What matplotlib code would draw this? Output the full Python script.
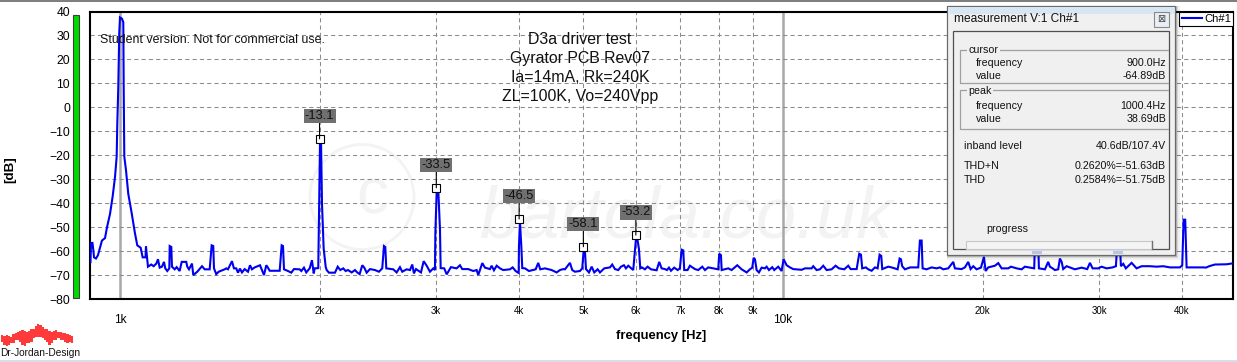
import matplotlib
matplotlib.use("Agg")
import matplotlib.pyplot as plt
from matplotlib.patches import Rectangle, Ellipse
import numpy as np

plt.rcParams['font.family'] = ['Liberation Sans', 'DejaVu Sans']

W, H = 1237, 362

# ---- spectrum: log10(frequency / Hz) and level in dB ----
fund_log = [2.9555,2.9563,2.9585,2.9600,2.9608,2.9638,2.9668,2.9698,2.9728,2.9774,2.9804,2.9849,2.9890,2.9925,2.9950,2.9959,2.9974,2.9989,3.0000,3.0030,3.0050,3.0056,3.0065,3.0090,3.0125,3.0176,3.0226,3.0261,3.0312,3.0342,3.0385,3.0392]
fund_db  = [-64.5,-56.5,-56.5,-60,-62.5,-63,-61.6,-58.5,-55.5,-54.5,-50,-44.5,-37,-29,-20.5,-7.4,8,31,37.5,37,35.5,8,-20.5,-26,-36,-44,-52.5,-57.5,-58.5,-62.5,-62.5,-58]

band1_log = [3.0422,3.0472,3.0508,3.0548,3.0573,3.0599,3.0633,3.0664,3.0683,3.0713,3.0744,3.0750,3.0774,3.0784,3.0825,3.0855,3.0900,3.0931,3.1000,3.1015,3.1041,3.1086,3.1106,3.1166,3.1237,3.1278,3.1353,3.1383,3.1407,3.1418,3.1452,3.1489,3.1579,3.1603,3.1629,3.1689,3.1719,3.1754,3.1780,3.1810,3.1840,3.1881,3.1931,3.1961,3.1991,3.2032,3.2112,3.2131,3.2172,3.2207,3.2232,3.2258,3.2409,3.2439,3.2459,3.2474,3.2534,3.2584,3.2624,3.2710,3.2735,3.2775,3.2810,3.2861,3.2896,3.2922,3.2937,3.2991]
band1_db  = [-66.4,-65.5,-66.2,-65.1,-63.3,-66.8,-66.4,-64.4,-67.1,-68.2,-67.1,-57.8,-58.2,-66.4,-67.5,-66.6,-68.2,-64.4,-64.4,-66.4,-67.5,-65.1,-69.9,-68.5,-66.2,-67.5,-67.5,-57.5,-57.8,-67.1,-69.5,-68.5,-67.5,-67.1,-67.5,-64.1,-67.1,-67.1,-68.9,-67.2,-68.8,-67.4,-68.5,-65.8,-67.5,-66.7,-65.8,-67.1,-69.9,-65.8,-66.8,-68.1,-68.1,-57.5,-57.8,-67.5,-68.2,-68.9,-67.4,-67.5,-68.2,-66.8,-68.8,-67.1,-63.7,-69.2,-67.1,-67]

band2_log = [3.3005,3.3017,3.3032,3.3047,3.3072,3.3103,3.3118,3.3152,3.3243,3.3284,3.3323,3.3368,3.3404,3.3439,3.3495,3.3545,3.3579,3.3615,3.3655,3.3685,3.3721,3.3771,3.3846,3.3906,3.3956,3.3982,3.4002,3.4017,3.4122,3.4173,3.4223,3.4258,3.4324,3.4374,3.4409,3.4434,3.4465,3.4540,3.4581,3.4626,3.4676,3.4726,3.4751]
band2_db  = [-40,-15,-13.1,-40,-58.7,-66.5,-67.8,-68.9,-68.9,-66.4,-67.8,-67.1,-68.2,-67.8,-68.8,-67.8,-68.8,-69.5,-65.8,-66.8,-68.9,-67.4,-67.8,-68.5,-67.1,-57.8,-58.2,-67.1,-67.5,-68.8,-66.6,-68.5,-67.5,-67.8,-65.5,-69.2,-67.4,-68.8,-64.1,-66,-68.5,-67.1,-67.8]

band3_log = [3.4757,3.4777,3.4801,3.4827,3.4837,3.4891,3.4928,3.4992,3.5078,3.5128,3.5163,3.5253,3.5329,3.5380,3.5404,3.5465,3.5505,3.5581,3.5606,3.5641,3.5682,3.5732,3.5781,3.5882,3.5923,3.5968,3.5999,3.6014,3.6018,3.6033,3.6053,3.6068,3.6109,3.6169,3.6270,3.6309,3.6339,3.6410,3.6511,3.6587,3.6637,3.6686,3.6712,3.6787,3.6822,3.6863,3.6938,3.6973,3.6994,3.7014,3.7029]
band3_db  = [-52.5,-35,-34.4,-51,-67,-67.1,-69.6,-66.6,-67.1,-65.8,-67.4,-67.4,-68.2,-67.8,-69.9,-64.9,-66.8,-67.4,-66,-67.9,-66,-67.1,-67.8,-67.5,-66.7,-68.2,-68.8,-69,-58,-47.6,-57.4,-67,-67.1,-68.2,-67.5,-64.8,-67.5,-67.1,-67.8,-68.8,-67.8,-67.4,-67.5,-64.8,-67.8,-68.5,-68.2,-67.1,-59.5,-60,-67.4]

band4_log = [3.7074,3.7115,3.7154,3.7205,3.7240,3.7305,3.7391,3.7425,3.7466,3.7516,3.7557,3.7602,3.7632,3.7667,3.7742,3.7763,3.7783,3.7808,3.7828,3.7848,3.7873,3.7918,3.7959,3.8009,3.8095,3.8134,3.8170,3.8220,3.8250,3.8281,3.8311,3.8360,3.8412,3.8446,3.8472,3.8496,3.8511,3.8562,3.8597,3.8673,3.8722,3.8783,3.8824,3.8873,3.8949,3.9024,3.9039,3.9065,3.9076,3.9175,3.9226,3.9311,3.9377,3.9453,3.9502,3.9537,3.9558,3.9578,3.9603,3.9638,3.9679,3.9728,3.9754,3.9789,3.9839,3.9869,3.9929,3.9980]
band4_db  = [-68.8,-66.4,-68.8,-67.5,-68.8,-67.1,-66.7,-65.5,-67.4,-67.8,-66.4,-65.8,-67.1,-66,-67.8,-61,-54.8,-55.5,-59,-67.1,-66.7,-67.5,-66.4,-67.5,-67.9,-64.4,-67.1,-67.4,-67.8,-66.8,-68.1,-66.8,-67.8,-67.1,-59.3,-59.6,-67.8,-67.8,-66,-67.4,-67.8,-66.4,-67.8,-66.7,-67.1,-67.5,-61,-61.6,-67.8,-67.1,-67.8,-65.8,-67.5,-68.8,-67.5,-66.8,-62.7,-63.3,-67.8,-68.8,-66.8,-67.1,-66.4,-67.8,-66.6,-67.8,-66.4,-68.2]

band5_log = [4.0010,4.0056,4.0106,4.0155,4.0282,4.0332,4.0433,4.0457,4.0508,4.0558,4.0608,4.0659,4.0734,4.0795,4.0845,4.0925,4.0985,4.1021,4.1112,4.1151,4.1177,4.1196,4.1252,4.1287,4.1338,4.1388,4.1428,4.1458,4.1483,4.1498,4.1588,4.1639,4.1730,4.1760,4.1780,4.1799,4.1840,4.1920,4.2041,4.2066,4.2092,4.2107,4.2167,4.2243,4.2318,4.2368,4.2418,4.2493,4.2569,4.2594,4.2695,4.2745,4.2795,4.2831,4.2871,4.2921,4.2987,4.3032,4.3057,4.3097,4.3198,4.3248,4.3299,4.3398,4.3439,4.3525,4.3600,4.3650,4.3790]
band5_db  = [-63.3,-65.8,-66.7,-67.4,-67.7,-67.1,-67.1,-66.2,-67.8,-67.5,-66,-67.8,-67.5,-66,-67.1,-67.5,-66,-67.4,-67.4,-61,-61.4,-67.1,-66.7,-67.5,-68.1,-66.7,-67.1,-61.4,-61.9,-67.4,-66.4,-66.7,-67.5,-63,-63.3,-66.2,-67.5,-66.7,-66.7,-55.5,-55.5,-67.1,-67.5,-66.7,-67.1,-66.7,-67.5,-67.1,-64.4,-67.1,-67.4,-66.7,-64.4,-67.4,-66.2,-67.5,-66.8,-62.3,-68.2,-66.7,-66,-64.9,-67.1,-67.1,-66.4,-67.1,-67.5,-66.4,-67.1]

band6_log = [4.3801,4.3851,4.3861,4.3952,4.4001,4.4027,4.4068,4.4102,4.4152,4.4178,4.4204,4.4228,4.4279,4.4404,4.4505,4.4590,4.4631,4.4671,4.4756,4.4807,4.4882,4.4973,4.5023,4.5042,4.5083,4.5098,4.5133,4.5173,4.5259,4.5335,4.5410,4.5535,4.5636,4.5736,4.5837,4.5988,4.6023,4.6033,4.6044,4.6068,4.6078,4.6089,4.6350,4.6380,4.6430,4.6516,4.6693,4.6788]
band6_db  = [-57,-57,-67.1,-67.5,-64.4,-66.4,-67.1,-67.8,-67.5,-63,-64.4,-67.4,-66.2,-67.5,-66.8,-67.4,-64.8,-67.1,-67.1,-66.4,-67.1,-66.7,-66.2,-57,-57,-66.2,-65.2,-67.1,-64.8,-67.1,-66.2,-66.2,-66.4,-66.2,-66.7,-66.7,-65.8,-56.8,-46.8,-46.8,-57,-66.7,-66.7,-66.8,-66.2,-65.5,-65.4,-65]

log_freq = np.array(fund_log + band1_log + band2_log + band3_log + band4_log + band5_log + band6_log)
level_db = np.array(fund_db + band1_db + band2_db + band3_db + band4_db + band5_db + band6_db)
frequency = 10.0 ** log_freq

harmonic_hz = [2000, 3000, 4000, 5000, 6000]
harmonic_db = [-13.1, -33.5, -46.5, -58.1, -53.2]
harmonic_labels = ['-13.1', '-33.5', '-46.5', '-58.1', '-53.2']

y_ticks = [40, 30, 20, 10, 0, -10, -20, -30, -40, -50, -60, -70, -80]
decade_hz = [1000, 10000]
decade_labels = ['1k', '10k']
minor_hz = [2000, 3000, 4000, 5000, 6000, 7000, 8000, 9000, 20000, 30000, 40000]
minor_labels = ['2k', '3k', '4k', '5k', '6k', '7k', '8k', '9k', '20k', '30k', '40k']
x_range = [901.1, 47740]
y_range = [-80, 40]

title_lines = ['D3a driver test', 'Gyrator PCB Rev07', 'Ia=14mA, Rk=240K', 'ZL=100K, Vo=240Vpp']

logo_top = [-3,-3.5,-3,-3.5,-4,-2.5,-2,-1,-0.5,0,-0.5,-1,-0.5,0.5,1,2.5,4,3,2,1,0.5,-0.5,-1,-0.5,0,-1,-1,-1.5,-2,-2.5,-3,-3.5]
logo_bot = [-7,-9,-10,-9,-8,-8,-6,-6,-7,-9,-10,-8,-8,-7,-5,-4,-4,-4,-5,-6,-7,-9,-8,-6,-6,-5,-6,-6,-7,-8,-7,-8]

# ---- figure ----
fig = plt.figure(figsize=(W/100, H/100), dpi=100, facecolor='white')
ax = fig.add_axes([90/W, (H-299.3)/H, 1143/W, 287.8/H], facecolor='none', zorder=2)

# faint watermark behind the plot
wm = '#f3f3f3'
fig.text(480/W, 1-238/H, 'bartola.co.uk', fontsize=52, style='italic', color=wm,
         va='baseline', ha='left', zorder=-1)
fig.add_artist(Ellipse((362/W, 1-197/H), 104/W, 105/H, fill=False, edgecolor=wm, lw=2, zorder=-1))
fig.text(372/W, 1-197/H, 'c', fontsize=46, color=wm, ha='center', va='center', zorder=-1)

ax.set_xscale('log')
ax.set_xlim(*x_range)
ax.set_ylim(*y_range)
ax.plot(frequency, level_db, color='#0000f0', lw=1.5, solid_joinstyle='miter', label='Ch#1', zorder=3)

ax.set_xticks(decade_hz)
ax.set_xticklabels(decade_labels, fontsize=8.6)
ax.set_xticks(minor_hz, minor=True)
ax.set_xticklabels(minor_labels, minor=True, fontsize=7.0)
ax.tick_params(axis='x', which='major', length=0, pad=10.6)
ax.tick_params(axis='x', which='minor', length=0, pad=5.0)
ax.set_yticks(y_ticks)
ax.tick_params(axis='y', length=0, pad=14.4, labelsize=8.7)
ax.grid(True, axis='x', which='major', color='#a8a8a8', lw=1.8, ls='-', zorder=1)
ax.grid(True, axis='x', which='minor', color='#8c8c8c', lw=0.75, ls=(0, (4, 3)), zorder=1)
ax.grid(True, axis='y', which='major', color='#8c8c8c', lw=0.75, ls=(0, (4, 3)), zorder=1)
ax.set_axisbelow(True)
for s in ax.spines.values():
    s.set_linewidth(1.5)
    s.set_color('black')

ax.set_xlabel('frequency [Hz]', fontsize=9.4, fontweight='bold', va='center')
ax.xaxis.set_label_coords((661-90)/1143, -(336.5-299.3)/287.8)
ax.set_ylabel('[dB]', fontsize=9.6, fontweight='bold', va='center', ha='center')
ax.yaxis.set_label_coords(-80/1143, (299.3-170)/287.8)

# harmonic markers and value tags
ax.plot(harmonic_hz, harmonic_db, ls='none', marker='s', ms=5.5, mfc='white', mec='black', mew=0.8, zorder=5)
for f, v, t in zip(harmonic_hz, harmonic_db, harmonic_labels):
    ax.annotate(t, (f, v), xytext=(0, 16.4), textcoords='offset points', ha='center', va='center',
                fontsize=9.3, color='#111111', zorder=6,
                bbox=dict(boxstyle='square,pad=0.1', fc='#707070', ec='none'),
                arrowprops=dict(arrowstyle='-', color='black', lw=0.8, shrinkA=0, shrinkB=0))

# free text placed in pixel space through an overlay
ui = fig.add_axes([0, 0, 1, 1], facecolor='none', zorder=4)
ui.set_xlim(0, W)
ui.set_ylim(H, 0)
ui.axis('off')

ui.text(100, 40, 'Student version. Not for commercial use.', fontsize=8.95, color='#111111', va='center', ha='left')
for yy, line in zip([40, 58.5, 77.7, 96], title_lines):
    ui.text(580, yy, line, fontsize=11.4, color='#111111', ha='center', va='center')

leg = ax.legend(loc='upper right', bbox_to_anchor=(1, 1), borderaxespad=0, fontsize=8.0,
                frameon=True, fancybox=False, edgecolor='black', facecolor='white', framealpha=1,
                handlelength=1.8, handletextpad=0.2, borderpad=0.2)
leg.get_frame().set_linewidth(0.8)

# window chrome
ui.add_patch(Rectangle((0, 0), W, 1.5, fc='#7f7f7f', ec='none'))
ui.add_patch(Rectangle((0, 359.5), W, 2.5, fc='#d5e0ea', ec='none'))
ui.add_patch(Rectangle((72.7, 15), 6, 283, fc='#00dc00', ec='#404040', lw=0.8))

# measurement panel
for off, a in [(5, 0.06), (3, 0.10), (1.5, 0.14)]:
    ui.add_patch(Rectangle((946.5, 6), 228.5+off, 249+off, fc='black', alpha=a, ec='none', zorder=5))
ui.add_patch(Rectangle((946.5, 6), 228.5, 249, fc='#f0f0f0', ec='#6a6a6a', lw=0.9, zorder=6))
ui.add_patch(Rectangle((947.5, 7), 226.5, 7, fc='#d8e6f4', ec='none', zorder=6))
ui.add_patch(Rectangle((952.7, 30.7), 216.3, 218.3, fc='#f0f0f0', ec='#505050', lw=0.9, zorder=6))
ui.add_patch(Rectangle((1153.5, 11.5), 15.5, 15.5, fc='#e8eef4', ec='#888888', lw=0.8, zorder=7))
ui.text(1161.2, 19.2, '\u22a0', fontsize=7, ha='center', va='center', color='#444444', zorder=8,
        family=['DejaVu Sans'])
ui.plot([1168, 960, 960, 1168], [49.5, 49.5, 82.7, 82.7], color='#a0a0a0', lw=0.9, zorder=7)
ui.plot([1168, 960, 960, 1168], [90.3, 90.3, 129.3, 129.3], color='#a0a0a0', lw=0.9, zorder=7)
ui.add_patch(Rectangle((965.5, 241), 186.5, 8, fc='#f4f4f4', ec='#c8c8c8', lw=0.8, zorder=7))
ui.plot([1152, 1152], [241, 249], color='#707070', lw=1, zorder=8)
for cx in [1036.5, 1118]:
    ui.add_patch(Rectangle((cx-5, 250.5), 10, 3.5, fc='#b4c4ee', ec='none', zorder=7))

pt = dict(fontsize=7.7, color='#111111', va='center', zorder=9)
ui.text(954.5, 19, 'measurement V:1 Ch#1', fontsize=8.6, color='#111111', va='center', zorder=9)
for xx, yy, s in [(975.5, 63, 'frequency'), (975.5, 76, 'value'), (975.5, 106, 'frequency'),
                  (975.5, 119, 'value'), (963.5, 146, 'inband level'), (964, 166, 'THD+N'),
                  (964, 180, 'THD'), (986.5, 228.5, 'progress')]:
    ui.text(xx, yy, s, ha='left', **pt)
for xx, yy, s in [(968.5, 50, 'cursor'), (968.5, 91, 'peak')]:
    ui.text(xx, yy, s, ha='left', bbox=dict(fc='#f0f0f0', ec='none', pad=1), **pt)
for yy, s in [(63, '900.0Hz'), (76, '-64.89dB'), (106, '1000.4Hz'), (119, '38.69dB'),
              (146, '40.6dB/107.4V'), (166, '0.2620%=-51.63dB'), (180, '0.2584%=-51.75dB')]:
    ui.text(1166, yy, s, ha='right', **pt)

# maker logo
logo = fig.add_axes([1/W, (H-348)/H, 72/W, 26/H], facecolor='none', zorder=3)
logo_x = np.arange(len(logo_top))
logo.bar(logo_x, np.array(logo_top)-np.array(logo_bot), bottom=logo_bot, width=1.0, color='#ff3a3a')
logo.set_xlim(-0.5, len(logo_top)-0.5)
logo.set_ylim(-11, 5)
logo.axis('off')
ui.text(0.5, 353.3, 'Dr-Jordan-Design', fontsize=7.3, color='#111111', ha='left', va='center')

fig.savefig('out.png', dpi=100)
